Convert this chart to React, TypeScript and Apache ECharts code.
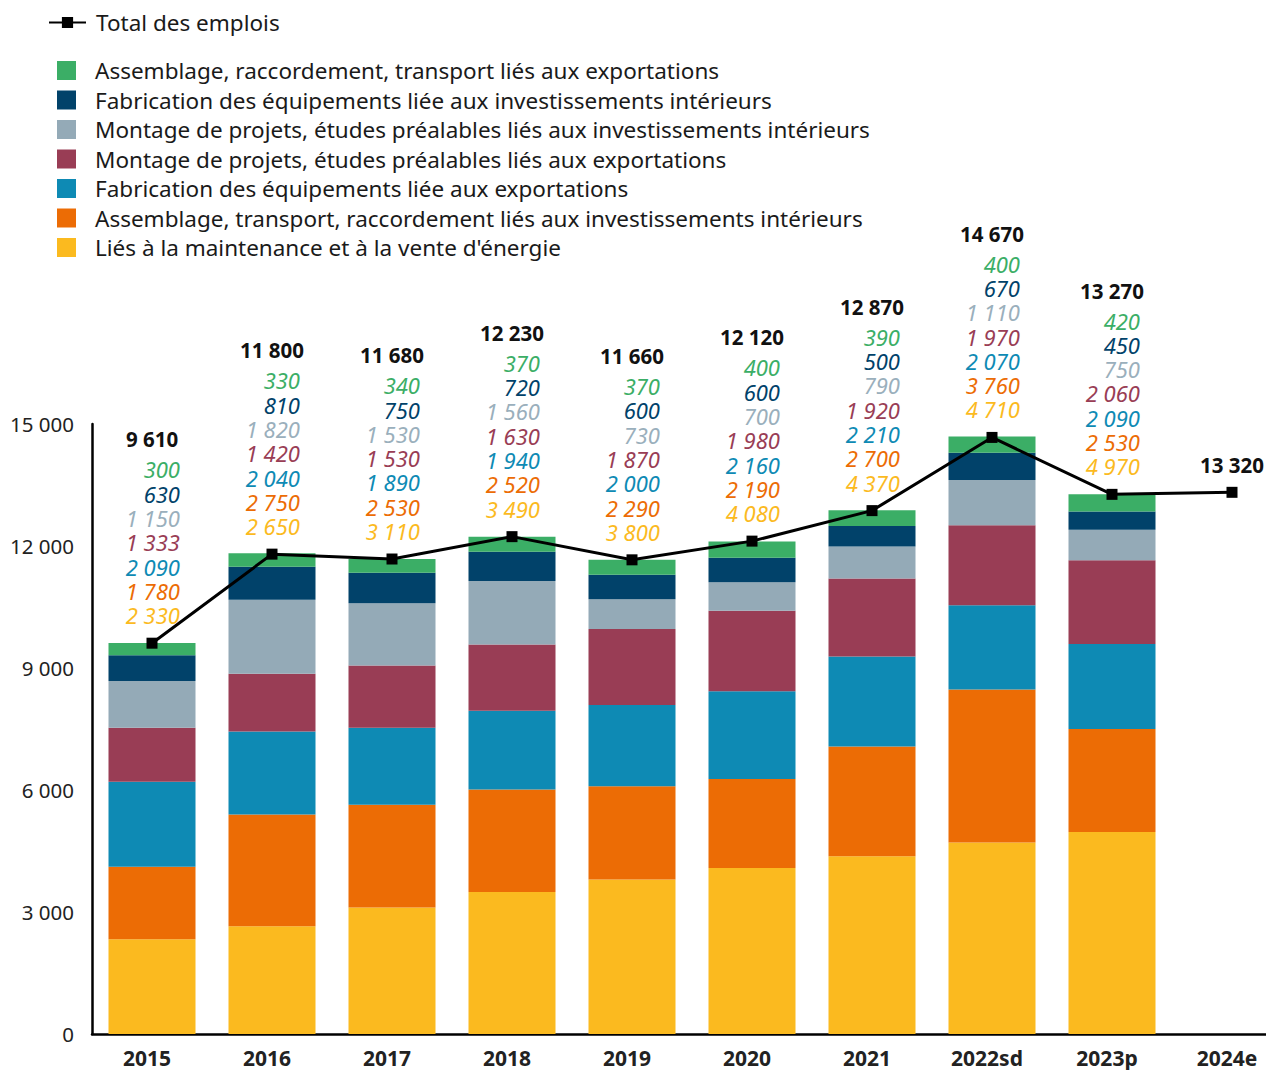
import React, { useEffect, useRef } from 'react';
import * as echarts from 'echarts';

const categories = ['2015', '2016', '2017', '2018', '2019', '2020', '2021', '2022sd', '2023p', '2024e'];
const maintenance = [2330, 2650, 3110, 3490, 3800, 4080, 4370, 4710, 4970, null];
const assemblageInt = [1780, 2750, 2530, 2520, 2290, 2190, 2700, 3760, 2530, null];
const fabricationExp = [2090, 2040, 1890, 1940, 2000, 2160, 2210, 2070, 2090, null];
const montageExp = [1333, 1420, 1530, 1630, 1870, 1980, 1920, 1970, 2060, null];
const montageInt = [1150, 1820, 1530, 1560, 730, 700, 790, 1110, 750, null];
const fabricationInt = [630, 810, 750, 720, 600, 600, 500, 670, 450, null];
const assemblageExp = [300, 330, 340, 370, 370, 400, 390, 400, 420, null];
const totals = [9610, 11800, 11680, 12230, 11660, 12120, 12870, 14670, 13270, 13320];

const totalName = 'Total des emplois';
const seriesNames = [
  "Liés à la maintenance et à la vente d'énergie",
  'Assemblage, transport, raccordement liés aux investissements intérieurs',
  'Fabrication des équipements liée aux exportations',
  'Montage de projets, études préalables liés aux exportations',
  'Montage de projets, études préalables liés aux investissements intérieurs',
  'Fabrication des équipements liée aux investissements intérieurs',
  'Assemblage, raccordement, transport liés aux exportations',
];
const seriesData = [maintenance, assemblageInt, fabricationExp, montageExp, montageInt, fabricationInt, assemblageExp];
const colors = ['#FBBA1F', '#EC6C05', '#0E8AB4', '#993D55', '#94AAB7', '#01426A', '#3BAE66'];
const labelColors = ['#FBBA1F', '#EC6C05', '#0E8AB4', '#993D55', '#9AAFBC', '#01426A', '#3BAE66'];

const FONT = '"Noto Sans", sans-serif';
const fmt = (v: number) => String(v).replace(/\B(?=(\d{3})+(?!\d))/g, ' ');

export default function App() {
  const ref = useRef<HTMLDivElement>(null);
  useEffect(() => {
    document.body.style.margin = '0';
    if (!ref.current) return;
    const chart = echarts.init(ref.current, null, { renderer: 'svg' });

    const labelData = categories.map((_, i) => [i, totals[i], ...seriesData.map((s) => (s[i] == null ? NaN : s[i]))]);

    const option: any = {
      animation: false,
      textStyle: { fontFamily: FONT },
      legend: [
        {
          data: [totalName],
          left: 43,
          top: 6,
          itemWidth: 37,
          itemHeight: 14,
          textStyle: { fontSize: 22.5, color: '#1a1a1a', fontFamily: FONT, padding: [0, 0, 0, 5], lineHeight: 22 },
          selectedMode: false,
        },
        {
          data: seriesNames.slice().reverse(),
          orient: 'vertical',
          left: 52,
          top: 54,
          itemWidth: 19,
          itemHeight: 19,
          itemGap: 6.5,
          icon: 'rect',
          textStyle: { fontSize: 22.5, color: '#1a1a1a', fontFamily: FONT, padding: [0, 0, 0, 14], lineHeight: 21 },
          selectedMode: false,
        },
      ],
      grid: { left: 92, right: 8, top: 424, bottom: 36, containLabel: false },
      xAxis: {
        type: 'category',
        data: categories,
        axisLine: { show: true, lineStyle: { color: '#000', width: 2.5 } },
        axisTick: { show: false },
        axisLabel: { fontSize: 21, fontWeight: 'bold', color: '#222', margin: 13, fontFamily: FONT, padding: [0, 10, 0, 0] },
      },
      yAxis: {
        type: 'value',
        min: 0,
        max: 15000,
        interval: 3000,
        axisLine: { show: true, lineStyle: { color: '#000', width: 2.5 } },
        axisTick: { show: false },
        splitLine: { show: false },
        axisLabel: { fontSize: 20.5, color: '#222', margin: 18, fontFamily: FONT, formatter: (v: number) => fmt(v) },
      },
      series: [
        ...seriesNames.map((name, i) => ({
          name,
          type: 'bar',
          stack: 'total',
          barWidth: 87,
          itemStyle: { color: colors[i] },
          data: seriesData[i],
          z: 2,
        })),
        {
          name: totalName,
          type: 'line',
          data: totals,
          symbol: 'rect',
          symbolSize: 11,
          itemStyle: { color: '#000' },
          lineStyle: { color: '#000', width: 3 },
          z: 5,
        },
        {
          type: 'custom',
          coordinateSystem: 'cartesian2d',
          encode: { x: 0, y: 1 },
          data: labelData,
          z: 6,
          clip: false,
          silent: true,
          renderItem: (params: any, api: any) => {
            const idx = api.value(0);
            const total = api.value(1);
            const pt = api.coord([idx, total]);
            const children: any[] = [];
            let y = pt[1] - 28;
            let has = false;
            for (let i = 0; i < 7; i++) {
              const v = api.value(2 + i);
              if (v == null || isNaN(v)) continue;
              has = true;
              children.push({
                type: 'text',
                x: pt[0] + 28,
                y,
                style: {
                  text: fmt(v),
                  align: 'right',
                  verticalAlign: 'middle',
                  textAlign: 'right',
                  textVerticalAlign: 'middle',
                  fill: labelColors[i],
                  font: `italic 22px ${FONT}`,
                },
              });
              y -= 24.3;
            }
            const ty = has ? y + 24.3 - 30 : pt[1] - 27;
            children.push({
              type: 'text',
              x: pt[0],
              y: ty,
              style: {
                text: fmt(total),
                align: 'center',
                verticalAlign: 'middle',
                textAlign: 'center',
                textVerticalAlign: 'middle',
                fill: '#111',
                font: `bold 20.5px ${FONT}`,
              },
            });
            return { type: 'group', children };
          },
        },
      ],
    };
    chart.setOption(option);
    return () => chart.dispose();
  }, []);
  return (
    <div style={{ width: 1266, height: 1070, overflow: 'hidden', position: 'relative' }}>
      <div ref={ref} style={{ width: 1300, height: 1070 }} />
    </div>
  );
}
